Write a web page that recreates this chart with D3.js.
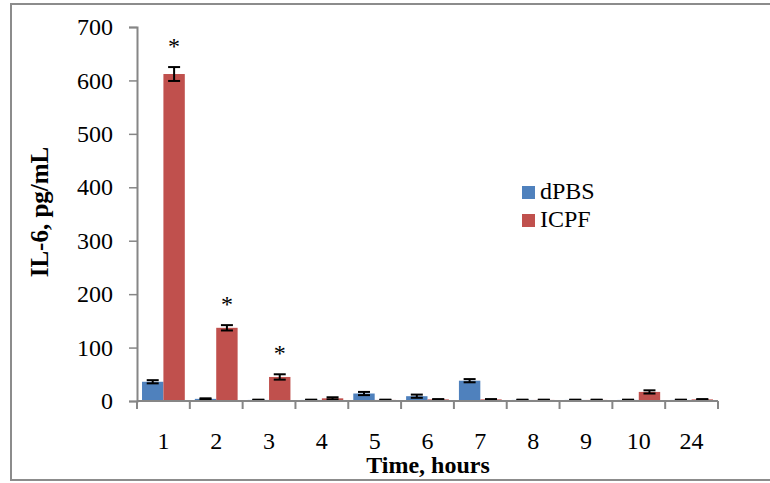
<!DOCTYPE html>
<html>
<head>
<meta charset="utf-8">
<script src="https://cdnjs.cloudflare.com/ajax/libs/d3/7.8.5/d3.min.js"></script>
<style>
  body { margin: 0; background: white; }
  text { font-family: "Liberation Serif", "Times New Roman", serif; }
</style>
</head>
<body>
<div id="chart_container"></div>
<script>
// Data
var hours = ["1", "2", "3", "4", "5", "6", "7", "8", "9", "10", "24"];
var dpbs = [36, 4, 2, 2, 14, 9, 38, 2, 2, 2, 2];
var dpbs_err = [3, 1, 0.5, 0.5, 3, 3, 3, 0.5, 0.5, 0.5, 0.5];
var icpf = [612, 137, 45, 5, 2, 3, 3, 2, 2, 17, 3];
var icpf_err = [13, 5, 5, 2, 0.5, 0.5, 0.5, 0.5, 0.5, 3, 0.5];
var starred = ["1", "2", "3"];
var y_ticks = [0, 100, 200, 300, 400, 500, 600, 700];
var series = ["dPBS", "ICPF"];
var colors = ["#4F81BD", "#C0504D"];

// Chart dimensions
var width = 770
var height = 483
var margin = {top: 27, right: 52, bottom: 82, left: 137}
var inner_w = width - margin.left - margin.right
var inner_h = height - margin.top - margin.bottom

var svg = d3.select("#chart_container")
    .append("svg")
    .attr("width", width)
    .attr("height", height)

// Outer frame
svg.append("rect")
    .attr("x", 11)
    .attr("y", 4)
    .attr("width", 770)
    .attr("height", 476)
    .attr("fill", "none")
    .attr("stroke", "#8c8c8c")
    .attr("stroke-width", 2)

// Scales
var x_scale = d3.scaleBand()
    .domain(hours)
    .range([0, inner_w])
    .paddingInner(0.19)
    .paddingOuter(0.095)

var x_inner = d3.scaleBand()
    .domain(series)
    .range([0, x_scale.bandwidth()])

var y_scale = d3.scaleLinear()
    .domain([0, 700])
    .range([inner_h, 0])

var chart = svg.append("g")
    .attr("transform", "translate(" + margin.left + "," + margin.top + ")")

// Bars
var rows = hours.map(function(h, i) {
    return [
        {h: h, s: "dPBS", v: dpbs[i], e: dpbs_err[i], c: colors[0]},
        {h: h, s: "ICPF", v: icpf[i], e: icpf_err[i], c: colors[1]}
    ]
})
var flat = [].concat.apply([], rows)

chart.selectAll(".bar")
    .data(flat)
    .enter()
    .append("rect")
    .attr("class", "bar")
    .attr("x", function(d) { return x_scale(d.h) + x_inner(d.s) })
    .attr("y", function(d) { return y_scale(d.v) })
    .attr("width", x_inner.bandwidth())
    .attr("height", function(d) { return y_scale(0) - y_scale(d.v) })
    .attr("fill", function(d) { return d.c })

// Error bars
var err = chart.selectAll(".err")
    .data(flat)
    .enter()
    .append("g")
    .attr("class", "err")
    .attr("transform", function(d) {
        return "translate(" + (x_scale(d.h) + x_inner(d.s) + x_inner.bandwidth() / 2) + ",0)"
    })
    .attr("stroke", "black")
    .attr("stroke-width", 2)

err.append("line")
    .attr("y1", function(d) { return y_scale(d.v + d.e) })
    .attr("y2", function(d) { return y_scale(Math.max(0, d.v - d.e)) })
err.append("line")
    .attr("x1", -6).attr("x2", 6)
    .attr("y1", function(d) { return y_scale(d.v + d.e) })
    .attr("y2", function(d) { return y_scale(d.v + d.e) })
err.append("line")
    .attr("x1", -6).attr("x2", 6)
    .attr("y1", function(d) { return y_scale(Math.max(0, d.v - d.e)) })
    .attr("y2", function(d) { return y_scale(Math.max(0, d.v - d.e)) })

// Significance stars
chart.selectAll(".star")
    .data(flat.filter(function(d) { return d.s == "ICPF" && starred.indexOf(d.h) >= 0 }))
    .enter()
    .append("text")
    .attr("class", "star")
    .attr("x", function(d) { return x_scale(d.h) + x_inner(d.s) + x_inner.bandwidth() / 2 })
    .attr("y", function(d) { return y_scale(d.v + d.e) - 13 })
    .style("text-anchor", "middle")
    .style("font-size", "24px")
    .text("*")

// Axes
var x_axis = d3.axisBottom(x_scale).tickSize(0).tickPadding(0)
var y_axis = d3.axisLeft(y_scale).tickValues(y_ticks).tickSize(8).tickPadding(16)

var gy = chart.append("g").call(y_axis)
gy.select(".domain").attr("stroke", "#868686").attr("stroke-width", 2)
gy.selectAll(".tick line").attr("stroke", "#868686").attr("stroke-width", 1.5)
gy.selectAll(".tick text")
    .style("font-size", "24px")
    .style("font-family", "Liberation Serif, serif")
    .attr("fill", "black")

var gx = chart.append("g")
    .attr("transform", "translate(0," + inner_h + ")")
    .call(x_axis)
gx.select(".domain").remove()
gx.append("line")
    .attr("x1", 0).attr("x2", inner_w)
    .attr("stroke", "#868686").attr("stroke-width", 2)
gx.selectAll(".bound")
    .data(hours.concat(["end"]))
    .enter()
    .append("line")
    .attr("class", "bound")
    .attr("x1", function(d, i) { return i * inner_w / hours.length })
    .attr("x2", function(d, i) { return i * inner_w / hours.length })
    .attr("y1", 0).attr("y2", 8)
    .attr("stroke", "#868686").attr("stroke-width", 2)
gx.selectAll(".tick text")
    .attr("y", 48)
    .attr("dy", 0)
    .style("font-size", "24px")
    .style("font-family", "Liberation Serif, serif")
    .attr("fill", "black")

// Axis titles
svg.append("text")
    .attr("x", 428)
    .attr("y", 473)
    .style("text-anchor", "middle")
    .style("font-size", "24px")
    .style("font-weight", "bold")
    .text("Time, hours")

svg.append("text")
    .attr("transform", "translate(48,212) rotate(-90)")
    .style("text-anchor", "middle")
    .style("font-size", "25px")
    .style("font-weight", "bold")
    .text("IL-6, pg/mL")

// Legend
var legend = svg.append("g")
    .attr("transform", "translate(522,186)")
legend.selectAll("rect")
    .data(series)
    .enter()
    .append("rect")
    .attr("x", 0)
    .attr("y", function(d, i) { return i * 28 })
    .attr("width", 13)
    .attr("height", 13)
    .attr("fill", function(d, i) { return colors[i] })
legend.selectAll("text")
    .data(series)
    .enter()
    .append("text")
    .attr("x", 18)
    .attr("y", function(d, i) { return i * 28 + 13 })
    .style("font-size", "24px")
    .text(function(d) { return d })
</script>
</body>
</html>
